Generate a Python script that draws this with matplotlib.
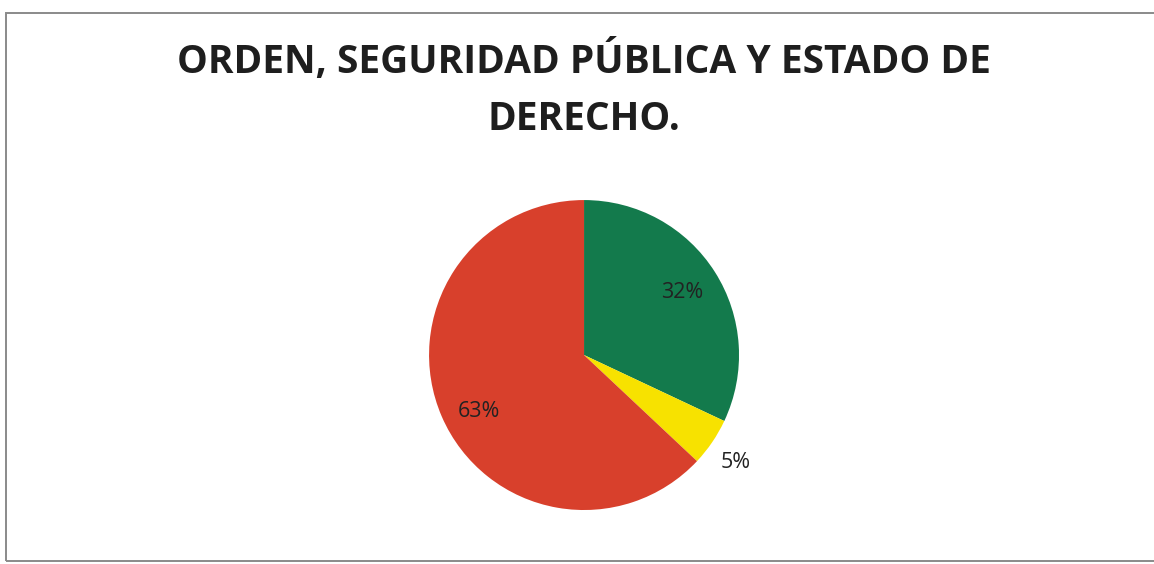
import numpy as np
import matplotlib.pyplot as plt
from matplotlib.patches import Rectangle

# data
labels = ["Verde", "Amarillo", "Rojo"]
values = [32, 5, 63]
colors = ["#137a4c", "#f7e200", "#d8402c"]
label_dist = [0.75, 1.20, 0.77]
label_shift = [0, -1, 5]   # degrees, label placement tweak

TITLE = "ORDEN, SEGURIDAD PÚBLICA Y ESTADO DE\nDERECHO."

fig = plt.figure(figsize=(11.54, 5.64), dpi=100)
fig.patch.set_facecolor("white")

# outer frame (right edge runs off the page)
fig.patches.append(Rectangle((6 / 1154, 1 - 561 / 564), 1152 / 1154, 548 / 564,
                             transform=fig.transFigure, fill=False,
                             edgecolor="#8a8a8a", lw=1.4))

fig.text(0.506, 0.842, TITLE, ha="center", va="center",
         fontsize=28, fontweight="bold", family="Open Sans",
         color="#1e1e1e", linespacing=1.6)

ax = fig.add_axes([0.3718, 0.0957, 0.2686, 0.5496])
wedges, _ = ax.pie(values, colors=colors, startangle=90, counterclock=False,
                   radius=1, wedgeprops=dict(linewidth=0))
ax.set_xlim(-1, 1)
ax.set_ylim(-1, 1)
ax.set_aspect("equal")
ax.axis("off")

for w, v, d, s in zip(wedges, values, label_dist, label_shift):
    ang = np.deg2rad((w.theta1 + w.theta2) / 2 + s)
    ax.text(d * np.cos(ang), d * np.sin(ang), f"{v}%", ha="center", va="center",
            fontsize=15.5, family="Open Sans", color="#222222")

fig.savefig("out.png", dpi=100)
